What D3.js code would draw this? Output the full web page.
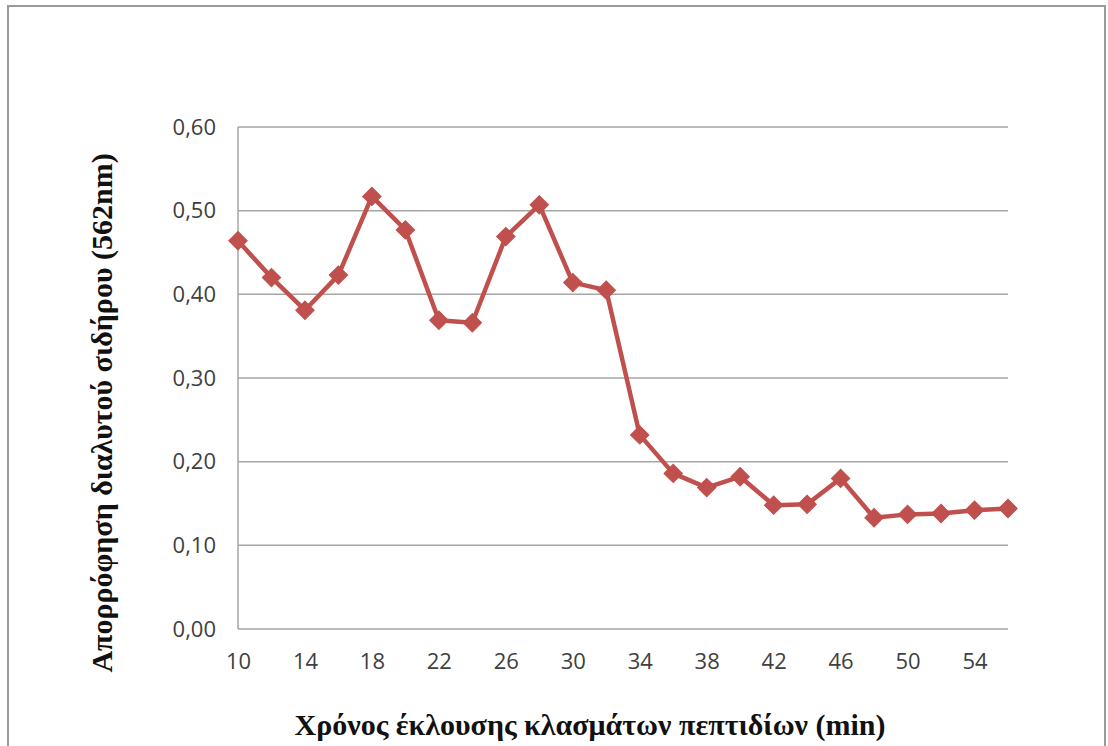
<!DOCTYPE html>
<html>
<head>
<meta charset="utf-8">
<script src="https://cdn.jsdelivr.net/npm/d3@7"></script>
<style>
  html, body { margin: 0; padding: 0; background: #fff; }
  svg { display: block; }
</style>
</head>
<body>
<script>
// Elution time of peptide fractions (min)
const times = [10, 12, 14, 16, 18, 20, 22, 24, 26, 28, 30, 32, 34, 36, 38, 40, 42, 44, 46, 48, 50, 52, 54, 56];
// Soluble iron absorbance at 562 nm
const absorbance = [0.464, 0.420, 0.381, 0.423, 0.517, 0.477, 0.369, 0.366, 0.469, 0.507, 0.414, 0.405,
                    0.232, 0.186, 0.169, 0.182, 0.148, 0.149, 0.180, 0.133, 0.137, 0.138, 0.142, 0.144];
const xTickValues = [10, 14, 18, 22, 26, 30, 34, 38, 42, 46, 50, 54];
const yTickValues = [0, 0.1, 0.2, 0.3, 0.4, 0.5, 0.6];

const xTitle = "Χρόνος έκλουσης κλασμάτων πεπτιδίων (min)";
const yTitle = "Απορρόφηση διαλυτού σιδήρου (562nm)";

const W = 1108, H = 746;
const plot = { left: 238, right: 1008, top: 127, bottom: 629 };
const red = "#c0504d";
const gridColor = "#a6a6a6";
const tickFont = "'Open Sans', 'Liberation Sans', sans-serif";
const titleFont = "'Liberation Serif', 'DejaVu Serif', serif";

const svg = d3.select("body").append("svg")
  .attr("width", W).attr("height", H);

// outer chart frame
svg.append("rect")
  .attr("x", 8).attr("y", 6)
  .attr("width", 1097).attr("height", 800)
  .attr("fill", "#fff")
  .attr("stroke", "#9a9a9a").attr("stroke-width", 2);

const x = d3.scaleLinear().domain([10, 56]).range([plot.left, plot.right]);
const y = d3.scaleLinear().domain([0, 0.6]).range([plot.bottom, plot.top]);

// horizontal gridlines
svg.append("g")
  .selectAll("line")
  .data(yTickValues)
  .join("line")
  .attr("x1", plot.left).attr("x2", plot.right)
  .attr("y1", d => y(d)).attr("y2", d => y(d))
  .attr("stroke", gridColor).attr("stroke-width", 1.5);

// left axis line
svg.append("line")
  .attr("x1", plot.left).attr("x2", plot.left)
  .attr("y1", plot.top).attr("y2", plot.bottom)
  .attr("stroke", gridColor).attr("stroke-width", 1.5);

// y axis labels
const fmt = d => d3.format(".2f")(d).replace(".", ",");
const yAxis = svg.append("g")
  .attr("transform", `translate(${plot.left},0)`)
  .call(d3.axisLeft(y).tickValues(yTickValues).tickFormat(fmt).tickSize(0).tickPadding(22));
yAxis.select(".domain").remove();
yAxis.selectAll("text")
  .attr("font-family", tickFont).attr("font-size", 22).attr("fill", "#404040");

// x axis labels
const xAxis = svg.append("g")
  .attr("transform", `translate(0,${plot.bottom})`)
  .call(d3.axisBottom(x).tickValues(xTickValues).tickFormat(d3.format("d")).tickSize(0).tickPadding(24));
xAxis.select(".domain").remove();
xAxis.selectAll("text")
  .attr("font-family", tickFont).attr("font-size", 22).attr("fill", "#404040");

// data line
const line = d3.line()
  .x((d, i) => x(times[i]))
  .y(d => y(d));

svg.append("path")
  .datum(absorbance)
  .attr("d", line)
  .attr("fill", "none")
  .attr("stroke", red)
  .attr("stroke-width", 4.5)
  .attr("stroke-linejoin", "round");

// diamond markers
svg.append("g")
  .selectAll("path")
  .data(absorbance)
  .join("path")
  .attr("transform", (d, i) => `translate(${x(times[i])},${y(d)}) rotate(45)`)
  .attr("d", d3.symbol().type(d3.symbolSquare).size(170))
  .attr("fill", red)
  .attr("stroke", red)
  .attr("stroke-width", 1);

// axis titles
svg.append("text")
  .attr("x", 590).attr("y", 735)
  .attr("text-anchor", "middle")
  .attr("font-family", titleFont).attr("font-weight", "bold")
  .attr("font-size", 30).attr("fill", "#111")
  .text(xTitle);

svg.append("text")
  .attr("transform", "translate(112,413) rotate(-90)")
  .attr("text-anchor", "middle")
  .attr("font-family", titleFont).attr("font-weight", "bold")
  .attr("font-size", 30).attr("fill", "#111")
  .text(yTitle);
</script>
</body>
</html>
